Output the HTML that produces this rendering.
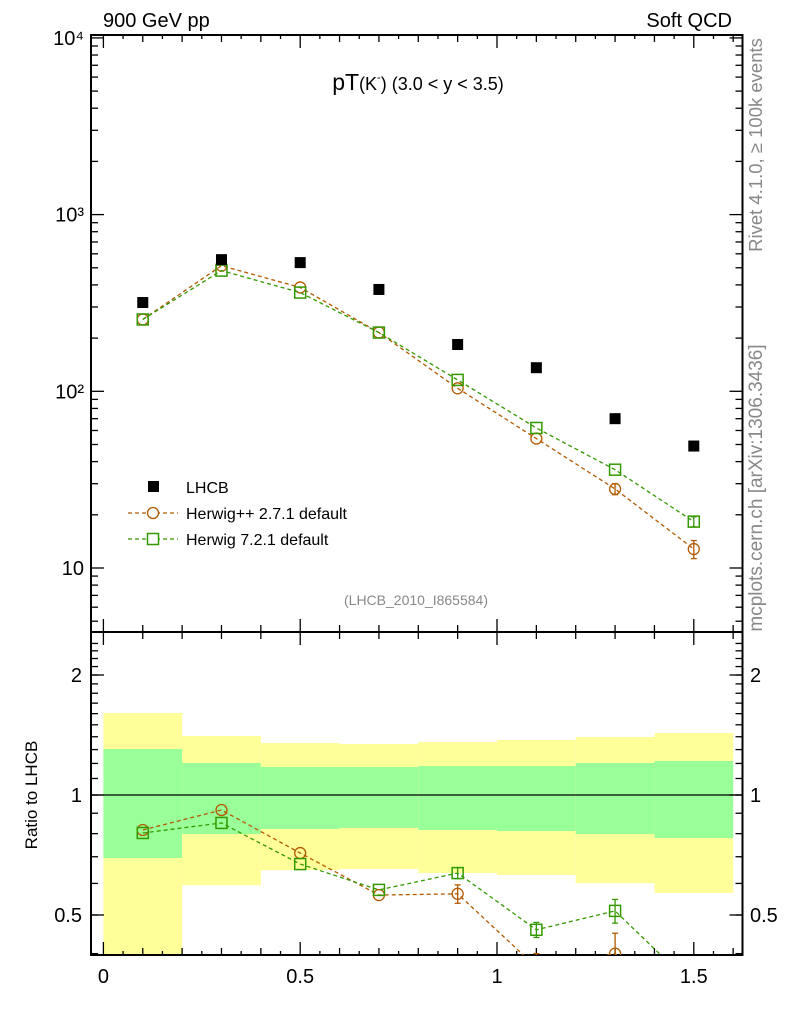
<!DOCTYPE html>
<html><head><meta charset="utf-8"><style>
html,body{margin:0;padding:0;background:#fff;}
svg{display:block;font-family:"Liberation Sans",sans-serif;}
</style></head><body>
<svg id="chart" width="786" height="1024" xmlns="http://www.w3.org/2000/svg">
<text x="103" y="27" font-size="20">900 GeV pp</text>
<text x="732" y="27" font-size="20" text-anchor="end">Soft QCD</text>
<text x="418" y="90" font-size="23" text-anchor="middle">pT<tspan font-size="18">(K</tspan><tspan font-size="11" dy="-9">-</tspan><tspan font-size="18" dy="9">)</tspan><tspan font-size="18"> (3.0 &lt; y &lt; 3.5)</tspan></text>
<text transform="translate(762,145) rotate(-90)" font-size="18.5" fill="#888" text-anchor="middle">Rivet 4.1.0, ≥ 100k events</text>
<text transform="translate(762,488) rotate(-90)" font-size="19" fill="#888" text-anchor="middle">mcplots.cern.ch [arXiv:1306.3436]</text>
<text x="416" y="605" font-size="14" fill="#888" text-anchor="middle">(LHCB_2010_I865584)</text>
<text transform="translate(37,795) rotate(-90)" font-size="17" text-anchor="middle">Ratio to LHCB</text>
<g id="g"></g>
</svg>
<script>
const xs = [0.1,0.3,0.5,0.7,0.9,1.1,1.3,1.5];
const binEdges = [0,0.2,0.4,0.6,0.8,1.0,1.2,1.4,1.6];
const lhcb = [318,556,535,377,184,136,70,49];
const hpp = [255,514,387,215,104,54,28,12.8];
const hppErr = [4,8,6,4,3,2,2,1.5];
const h7 = [255,482,362,215,116,62,36,18.3];
const h7Err = [4,8,6,4,3,2,1.5,1.2];
const ratioHpp = [0.817,0.917,0.715,0.561,0.565,0.37,0.40,0.26];
const ratioHppErr = [0.01,0.01,0.01,0.015,0.03,0.03,0.05,0.05];
const ratioH7 = [0.803,0.851,0.671,0.578,0.637,0.459,0.512,0.33];
const ratioH7Err = [0.01,0.01,0.01,0.01,0.02,0.02,0.035,0.04];
const yellowHi = [1.606,1.406,1.35,1.343,1.358,1.374,1.398,1.431];
const yellowLo = [0.3,0.594,0.648,0.652,0.637,0.630,0.601,0.568];
const greenHi = [1.304,1.203,1.176,1.176,1.182,1.182,1.203,1.217];
const greenLo = [0.695,0.798,0.822,0.827,0.817,0.812,0.798,0.78];
const mainTicks = ["10","10²","10³","10⁴"];
const ratioTickVals = [0.5,1,2];
const ratioTickLabels = ["0.5","1","2"];
const xTickVals = [0,0.5,1,1.5];
const xTickLabels = ["0","0.5","1","1.5"];

const L=91,R=742.5,T=35,MB=632,B=955;
const X=v=>103.4+v*393.6;
const Y=v=>568-(Math.log10(v)-1)*176.7;
const RY=v=>795-Math.log10(v)*398.6;
const NS="http://www.w3.org/2000/svg";
const g=document.getElementById('g');
function el(tag,attrs,parent){const e=document.createElementNS(NS,tag);for(const k in attrs)e.setAttribute(k,attrs[k]);(parent||g).appendChild(e);return e;}

const defs=el('defs',{});
const c1=el('clipPath',{id:'cm'},defs);el('rect',{x:L,y:T,width:R-L,height:MB-T},c1);
const c2=el('clipPath',{id:'cr'},defs);el('rect',{x:L,y:MB,width:R-L,height:B-MB},c2);

const bands=el('g',{'clip-path':'url(#cr)'});


for(let i=0;i<xs.length;i++){
  const x0=X(binEdges[i]),x1=X(binEdges[i+1]);
  const y=el('rect',{x:x0,y:RY(yellowHi[i]),width:x1-x0,height:RY(yellowLo[i])-RY(yellowHi[i]),fill:'#ffff99'},bands);
  
  
  const gr=el('rect',{x:x0,y:RY(greenHi[i]),width:x1-x0,height:RY(greenLo[i])-RY(greenHi[i]),fill:'#99ff99'},bands);
  
  
}
el('line',{x1:L,x2:R,y1:RY(1),y2:RY(1),stroke:'#000','stroke-width':1.3});

function frame(y0,y1){el('rect',{x:L,y:y0,width:R-L,height:y1-y0,fill:'none',stroke:'#000','stroke-width':2});}
frame(T,MB);frame(MB,B);
function tick(x1,y1,x2,y2){el('line',{x1,y1,x2,y2,stroke:'#000','stroke-width':1.3});}
for(let e=0;e<=4;e++){for(let m=1;m<10;m++){const v=m*Math.pow(10,e);const y=Y(v);if(y<T-0.5||y>MB)continue;const len=m===1?13:7;tick(L,y,L+len,y);tick(R,y,R-len,y);}}
for(let i=0;i<4;i++){
  const t=el('text',{x:84,y:Y(Math.pow(10,i+1))+7,'font-size':20,'text-anchor':'end'});
  t.textContent=mainTicks[i];
  
  
}
for(let v=0.4;v<=2.5;v+=0.1){const y=RY(v);if(y<MB||y>B)continue;tick(L,y,L+7,y);tick(R,y,R-7,y);}
ratioTickVals.forEach((v,i)=>{const y=RY(v);tick(L,y,L+13,y);tick(R,y,R-13,y);
  const t=el('text',{x:82,y:y+7,'font-size':20,'text-anchor':'end'});t.textContent=ratioTickLabels[i];
  
  
  const t2=el('text',{x:750,y:y+7,'font-size':20});t2.textContent=ratioTickLabels[i];
  
  
});
for(let k=0;k<=16;k++){const v=k/10;const x=X(v);const len=(k%5===0)?13:7;
  tick(x,B,x,B-len);tick(x,MB,x,MB-len);tick(x,MB,x,MB+len);tick(x,T,x,T+len);}
for(let k=0;k<=32;k++){const x=X(k/20);if(k%2===1){tick(x,B,x,B-4);tick(x,T,x,T+4);}}
xTickVals.forEach((v,i)=>{const t=el('text',{x:X(v),y:983,'font-size':20,'text-anchor':'middle'});t.textContent=xTickLabels[i];
  
  });

function series(vals,errs,yf,color,shape,clip,name){
  const sg=el('g',{'clip-path':clip});
  
  
  el('polyline',{points:xs.map((x,i)=>X(x)+','+yf(vals[i])).join(' '),fill:'none',stroke:color,'stroke-width':1.3,'stroke-dasharray':'4,3'},sg);
  xs.forEach((x,i)=>{const cx=X(x),cy=yf(vals[i]);
    const y1=yf(vals[i]+errs[i]),y2=yf(Math.max(vals[i]-errs[i],1e-3));
    if(y2-y1>10){el('line',{x1:cx,x2:cx,y1:y1,y2:y2,stroke:color,'stroke-width':1.3},sg);
      el('line',{x1:cx-3,x2:cx+3,y1:y1,y2:y1,stroke:color,'stroke-width':1.3},sg);
      el('line',{x1:cx-3,x2:cx+3,y1:y2,y2:y2,stroke:color,'stroke-width':1.3},sg);}
    let m;
    if(shape==='c')m=el('circle',{cx,cy,r:5.5,fill:'none',stroke:color,'stroke-width':1.3},sg);
    else m=el('rect',{x:cx-5.5,y:cy-5.5,width:11,height:11,fill:'none',stroke:color,'stroke-width':1.5},sg);
    
    
  });
}
series(hpp,hppErr,Y,'#b35900','c','url(#cm)','herwigpp-series');
series(h7,h7Err,Y,'#339900','s','url(#cm)','herwig7-series');
series(ratioHpp,ratioHppErr,RY,'#b35900','c','url(#cr)','herwigpp-ratio');
series(ratioH7,ratioH7Err,RY,'#339900','s','url(#cr)','herwig7-ratio');
xs.forEach((x,i)=>{const r=el('rect',{x:X(x)-5.5,y:Y(lhcb[i])-5.5,width:11,height:11,fill:'#000'});
  
  });

const lg=el('g',{});


el('rect',{x:148,y:481,width:11,height:11,fill:'#000'},lg);
let t=el('text',{x:186,y:493,'font-size':16},lg);t.textContent='LHCB';
el('line',{x1:128,x2:178,y1:513,y2:513,stroke:'#b35900','stroke-width':1.3,'stroke-dasharray':'4,3'},lg);
el('circle',{cx:153,cy:513,r:5.5,fill:'#fff',stroke:'#b35900','stroke-width':1.3},lg);
t=el('text',{x:186,y:519,'font-size':16},lg);t.textContent='Herwig++ 2.7.1 default';
el('line',{x1:128,x2:178,y1:539,y2:539,stroke:'#339900','stroke-width':1.3,'stroke-dasharray':'4,3'},lg);
el('rect',{x:147.5,y:533.5,width:11,height:11,fill:'#fff',stroke:'#339900','stroke-width':1.5},lg);
t=el('text',{x:186,y:545,'font-size':16},lg);t.textContent='Herwig 7.2.1 default';
</script>
</body></html>
